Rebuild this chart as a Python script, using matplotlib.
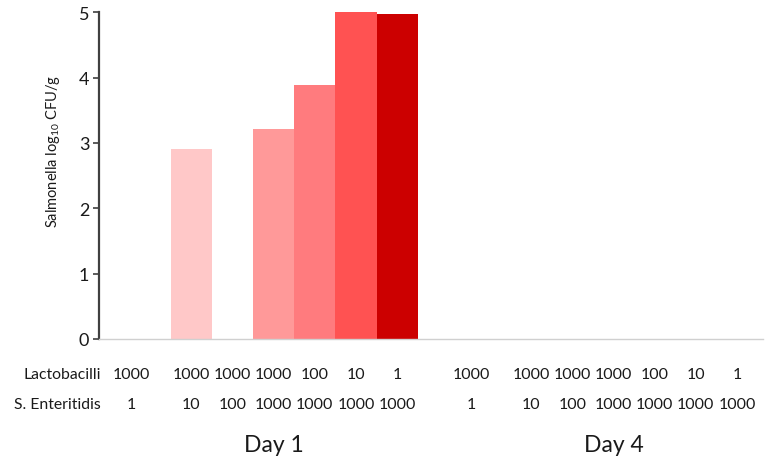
import matplotlib
matplotlib.use("Agg")
import matplotlib.pyplot as plt
import numpy as np

plt.rcParams['font.family'] = ['Lato', 'DejaVu Sans']
plt.rcParams['mathtext.fontset'] = 'custom'
plt.rcParams['mathtext.rm'] = 'Lato'
plt.rcParams['mathtext.it'] = 'Lato:italic'

# Data
lactobacilli = ["1000", "1000", "1000", "1000", "100", "10", "1"]
enteritidis = ["1", "10", "100", "1000", "1000", "1000", "1000"]
day1_values = [0, 2.91, 0, 3.21, 3.89, 5.01, 4.97]
day4_values = [0, 0, 0, 0, 0, 0, 0]
days = ["Day 1", "Day 4"]
bar_colors = ["#FFE0E0", "#FFC8C8", "#FFB0B0", "#FF9999", "#FF7B7E", "#FF5252", "#CC0000"]

day_offsets = [0.0, 8.25]

fig = plt.figure(figsize=(7.76, 4.64), dpi=100)
ax = fig.add_axes([99/776, 1 - 340/464, (763 - 99)/776, (340 - 13.3)/464])

n = len(lactobacilli)
base = np.arange(n)
for off, vals in zip(day_offsets, [day1_values, day4_values]):
    ax.bar(base + off, vals, width=1.0, color=bar_colors, linewidth=0)

ax.set_xlim(-1.24, 14.88)
ax.set_ylim(0, 5.0)
ax.set_yticks([0, 1, 2, 3, 4, 5])
ax.set_yticklabels(["0", "1", "2", "3", "4", "5"], fontsize=13, color="#1a1a1a")
ax.set_xticks([])
ax.tick_params(axis='y', length=4, width=1.2, color="#404040", pad=3)

for s in ['top', 'right']:
    ax.spines[s].set_visible(False)
ax.spines['left'].set_color("#404040")
ax.spines['left'].set_linewidth(1.6)
ax.spines['bottom'].set_color("#d0d0d0")
ax.spines['bottom'].set_linewidth(1.0)

ax.set_ylabel("Salmonella log$_{10}$ CFU/g", fontsize=10.5, color="#1a1a1a")
ax.yaxis.set_label_coords(-0.055, 0.578)

tr = ax.get_xaxis_transform()
row1_y = (340 - 375) / (340 - 13.3)
row2_y = (340 - 405) / (340 - 13.3)
day_y = (340 - 446) / (340 - 13.3)

ax.text(0.003, row1_y, "Lactobacilli", transform=ax.transAxes, ha='right', va='center',
        fontsize=11.3, color="#1a1a1a")
ax.text(0.003, row2_y, "S. Enteritidis", transform=ax.transAxes, ha='right', va='center',
        fontsize=11.3, color="#1a1a1a")

for off, day in zip(day_offsets, days):
    for i in range(n):
        x = base[i] + off
        if i == 0:
            x -= 0.45
        ax.text(x, row1_y, lactobacilli[i], transform=tr, ha='center', va='center',
                fontsize=11.5, color="#1a1a1a")
        ax.text(x, row2_y, enteritidis[i], transform=tr, ha='center', va='center',
                fontsize=11.5, color="#1a1a1a")
    ax.text(base.mean() + off, day_y, day, transform=tr, ha='center', va='center',
            fontsize=16.5, color="#1a1a1a")

fig.savefig("out.png", dpi=100)
